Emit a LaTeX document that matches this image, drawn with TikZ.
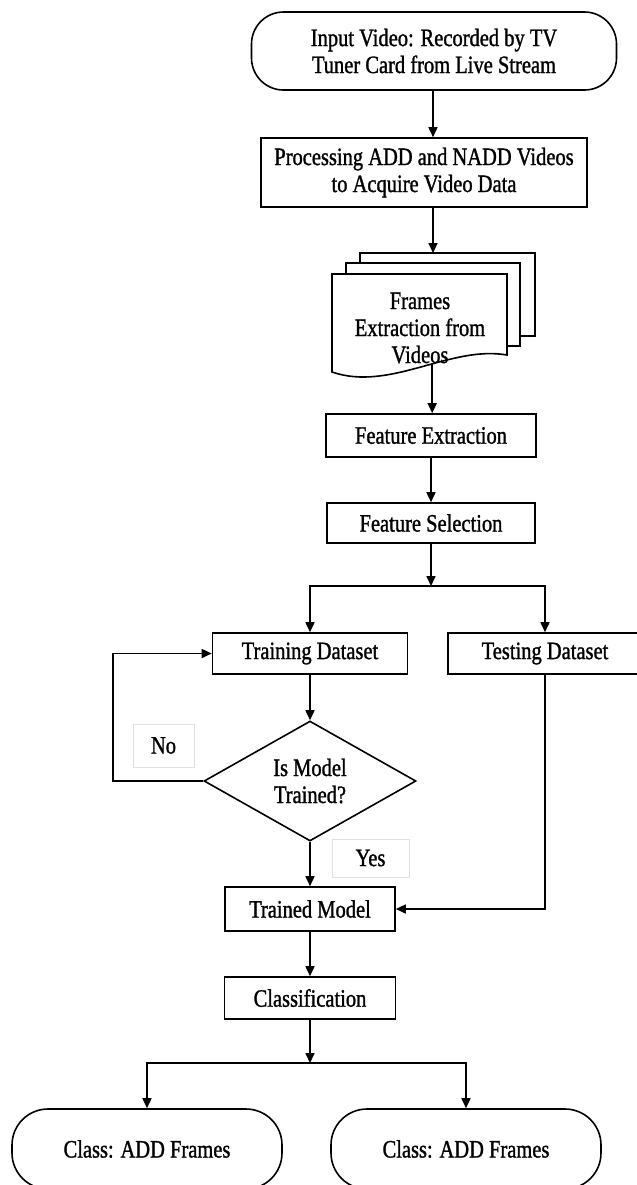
\documentclass[tikz,border=0pt]{standalone}
\usepackage{fontspec}
\setmainfont{Liberation Serif}[FakeStretch=0.82,FakeBold=1.2]
\usetikzlibrary{arrows.meta,shapes.geometric}

\begin{document}
\begin{tikzpicture}[x=0.5pt,y=-0.5pt,
  font=\fontsize{12.5}{13.5}\selectfont,
  term/.style={draw,line width=0.8pt,rounded corners=16pt,align=center,minimum height=39pt},
  proc/.style={draw,line width=0.8pt,align=center,inner sep=0pt},
  page/.style={draw,line width=0.8pt,fill=white},
  dec/.style={diamond,draw,line width=0.8pt,aspect=1.77,inner sep=0pt,align=center,minimum width=106pt,minimum height=60pt},
  lbl/.style={draw=black!12,line width=0.4pt,inner sep=0pt},
  arr/.style={line width=0.8pt,-{Triangle[length=5pt,width=4.5pt]}}]
\useasboundingbox (0,0) rectangle (637,1185);
\node[term,minimum width=182.5pt] (input) at (434,51) {Input Video: Recorded by TV\\Tuner Card from Live Stream};
\node[proc,minimum width=163pt,minimum height=34.5pt] (proc) at (424,172.5) {Processing ADD and NADD Videos\\to Acquire Video Data};
\coordinate (doc) at (433,253);
\draw[page] (360,253) rectangle (535,336);
\draw[page] (346,263) rectangle (520,346);
\draw[page] (332,274) -- (507,274) -- (507,355) .. controls (450,345) and (390,392) .. coordinate[pos=0.43] (wave) (332,372) -- cycle;
\node[align=center] (frames) at (420,328) {Frames\\Extraction from\\Videos};
\node[proc,minimum width=105pt,minimum height=21.5pt] (fext) at (431,435.5) {Feature Extraction};
\node[proc,minimum width=104pt,minimum height=20pt] (fsel) at (431,523) {Feature Selection};
\coordinate (split) at (431,586);
\node[proc,minimum width=97.5pt,minimum height=20.5pt] (train) at (310,653.5) {Training Dataset};
\node[proc,minimum width=97pt,minimum height=20.5pt] (test) at (545,653.5) {Testing Dataset};
\node[dec] (check) at (310,781) {Is Model\\Trained?};
\node[lbl,minimum width=30.5pt,minimum height=21.5pt] (no) at (163.5,745.5) {No};
\node[lbl,minimum width=38.5pt,minimum height=19pt] (yes) at (370.5,858) {Yes};
\node[proc,minimum width=85pt,minimum height=22pt] (model) at (310,909) {Trained Model};
\node[proc,minimum width=85.5pt,minimum height=21pt] (cls) at (310,998) {Classification};
\coordinate (split2) at (310,1063);
\node[term,minimum width=135pt,minimum height=40pt,rounded corners=18pt] (add1) at (147,1149) {Class: ADD Frames};
\node[term,minimum width=135pt,minimum height=40pt,rounded corners=18pt] (add2) at (466,1149) {Class: ADD Frames};
\draw[arr] (doc |- input.south) -- (doc |- proc.north);
\draw[arr] (doc |- proc.south) -- (doc);
\draw[arr] (wave) -- (wave |- fext.north);
\draw[arr] (fext.south) -- (fsel.north);
\draw[arr] (fsel.south) -- (split);
\draw[arr] (split) -| (train.north);
\draw[arr] (split) -| (test.north);
\draw[arr] (train.south) -- (check.north);
\draw[arr] (check.west) -- ++(-90,0) |- (train.west);
\draw[arr] (check.south) -- (model.north);
\draw[arr] (test.south) |- (model.east);
\draw[arr] (model.south) -- (cls.north);
\draw[arr] (cls.south) -- (split2);
\draw[arr] (split2) -| (add1.north);
\draw[arr] (split2) -| (add2.north);
\end{tikzpicture}
\end{document}
